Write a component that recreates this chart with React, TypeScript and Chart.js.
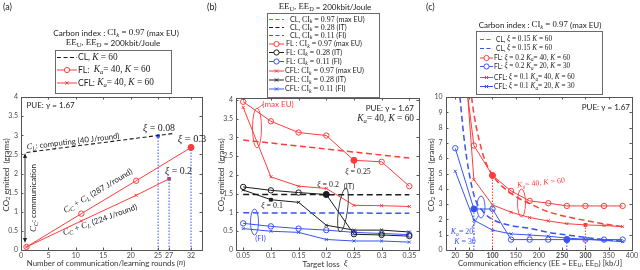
import React, { useEffect, useRef } from "react";
import { Chart, registerables } from "chart.js";

Chart.register(...registerables);

// ---------------- data: panel (a) ----------------
const aRoundTicks = [0, 5, 10, 15, 20, 25, 27, 31];
const aRoundTickLabels = ["0", "5", "10", "15", "20", "25", "27", "32"];
const aClRounds = [1, 28];
const aClCo2 = [2.55, 3.05];
const aFlRounds = [1, 11, 21, 31];
const aFlCo2 = [0.08, 0.95, 1.81, 2.68];
const aCflRounds = [1, 11, 21, 27];
const aCflCo2 = [0.08, 0.76, 1.43, 1.86];
const aTargetRounds = [25, 27, 31];
const aTargetCo2 = [2.98, 1.86, 2.68];
const co2Ticks4 = [0, 0.5, 1, 1.5, 2, 2.5, 3, 3.5, 4];

// ---------------- data: panel (b) ----------------
const bLoss = [0.05, 0.1, 0.15, 0.2, 0.25, 0.3, 0.35];
const bClLoss = [0.05, 0.35];
const bClEu = [2.93, 2.45];
const bClIt = [1.48, 1.47];
const bClFi = [0.99, 0.98];
const bFlEu = [3.95, 3.43, 3.13, 3.05, 2.39, 2.35, 1.7];
const bFlIt = [1.68, 1.59, 1.53, 1.48, 0.42, 0.4, 0.37];
const bFlFi = [0.71, 0.63, 0.57, 0.53, 0.47, 0.44, 0.41];
const bCflEu = [3.8, 1.95, 1.7, 1.64, 1.19, 1.18, 1.16];
const bCflIt = [1.6, 1.34, 1.27, 0.66, 0.53, 0.53, 0.48];
const bCflFi = [0.57, 0.5, 0.47, 0.28, 0.24, 0.24, 0.21];
const bTargetLoss = [0.25, 0.2, 0.1];
const bTargetCo2 = [2.39, 1.48, 1.34];

// ---------------- data: panel (c) ----------------
const cEE = [20, 60, 100, 140, 180, 220, 260, 300, 340, 380];
const cFlRed = [16.6, 6.83, 4.87, 3.86, 3.21, 3.06, 2.88, 2.88, 2.88, 2.88];
const cCflRed = [21, 4.6, 2.95, 2.47, 2.12, 1.9, 1.72, 1.64, 1.6, 1.53];
const cFlBlue = [6.65, 2.68, 2.68, 0.68, 0.68, 0.68, 0.68, 0.68, 0.68, 0.68];
const cCflBlue = [5.15, 1.95, 1.3, 1.05, 0.98, 0.9, 0.78, 0.7, 0.62, 0.55];
const cClRedEE = [55, 60, 80, 100, 140, 180, 220, 260, 300, 340, 380];
const cClRed = [10, 8.9, 6.2, 4.9, 3.7, 3.03, 2.5, 2.17, 1.93, 1.71, 1.52];
const cClBlueEE = [30, 40, 60, 80, 100, 140, 180, 220, 260, 300, 340, 380];
const cClBlue = [10, 7.0, 3.6, 2.5, 2.0, 1.6, 1.42, 1.15, 0.98, 0.82, 0.68, 0.57];
const cTargetEE = [100, 300, 60, 260];
const cTargetCo2 = [4.87, 1.64, 2.68, 0.68];
const cEETicks = [20, 50, 100, 150, 200, 250, 300, 350, 400];
const cEEBold = [50, 100, 250, 300];
const cCo2Ticks = [0, 1, 2, 3, 4, 5, 6, 7, 8, 9, 10];

// ---------------- styling ----------------
const RED = "#ff3c3c";
const BLUE = "#3a52f2";
const BLACK = "#1c1c1c";
const TICK = "#4a4a4a";
const SANS = '"Lato", "Liberation Sans", Arial, sans-serif';
const SERIF = '"Liberation Serif", "Times New Roman", serif';
const YW = 22;
const XH = 16;

type Seg = [string, string];

function segFont(code: string, size: number) {
  const sub = code[0] === "b";
  const base = sub ? code.slice(1) || "r" : code;
  let sz = sub ? size * 0.72 : size;
  if (base !== "s") sz *= 1.1;
  if (base === "s") return `${sz}px ${SANS}`;
  if (base === "i") return `italic ${sz}px ${SERIF}`;
  return `${sz}px ${SERIF}`;
}

function richWidth(ctx: CanvasRenderingContext2D, segs: Seg[], size: number) {
  let w = 0;
  for (const [t, c] of segs) {
    ctx.font = segFont(c, size);
    w += ctx.measureText(t).width;
  }
  return w;
}

function drawRich(
  ctx: CanvasRenderingContext2D,
  segs: Seg[],
  x: number,
  y: number,
  size: number,
  color: string,
  align: "left" | "center" | "right" = "left",
  angle = 0
) {
  ctx.save();
  ctx.translate(x, y);
  if (angle) ctx.rotate((angle * Math.PI) / 180);
  const w = richWidth(ctx, segs, size);
  let cx = align === "left" ? 0 : align === "center" ? -w / 2 : -w;
  ctx.fillStyle = color;
  ctx.textBaseline = "middle";
  ctx.textAlign = "left";
  for (const [t, c] of segs) {
    ctx.font = segFont(c, size);
    const dy = c[0] === "b" ? size * 0.3 : 0;
    ctx.fillText(t, cx, dy);
    cx += ctx.measureText(t).width;
  }
  ctx.restore();
}

function drawMarker(ctx: CanvasRenderingContext2D, kind: string, x: number, y: number, color: string) {
  ctx.save();
  ctx.strokeStyle = color;
  ctx.lineWidth = 1;
  ctx.setLineDash([]);
  if (kind === "circle") {
    ctx.beginPath();
    ctx.arc(x, y, 2.6, 0, Math.PI * 2);
    ctx.fillStyle = "#fff";
    ctx.fill();
    ctx.stroke();
  } else if (kind === "cross") {
    ctx.beginPath();
    ctx.moveTo(x - 1.6, y - 1.6);
    ctx.lineTo(x + 1.6, y + 1.6);
    ctx.moveTo(x + 1.6, y - 1.6);
    ctx.lineTo(x - 1.6, y + 1.6);
    ctx.stroke();
  }
  ctx.restore();
}

type LegItem = { color: string; dash: boolean; marker: string; text: Seg[]; y: number; tx?: number };

function drawLegend(
  ctx: CanvasRenderingContext2D,
  box: [number, number, number, number],
  lx: [number, number],
  tx: number,
  size: number,
  items: LegItem[]
) {
  ctx.save();
  ctx.fillStyle = "#fff";
  ctx.fillRect(box[0], box[1], box[2], box[3]);
  ctx.strokeStyle = "#6a6a6a";
  ctx.lineWidth = 1;
  ctx.strokeRect(box[0] + 0.5, box[1] + 0.5, box[2], box[3]);
  for (const it of items) {
    ctx.strokeStyle = it.color;
    ctx.lineWidth = it.dash ? 1.2 : 1;
    ctx.setLineDash(it.dash ? [4, 2.5] : []);
    ctx.beginPath();
    ctx.moveTo(lx[0], it.y);
    ctx.lineTo(lx[1], it.y);
    ctx.stroke();
    ctx.setLineDash([]);
    if (it.marker !== "none") drawMarker(ctx, it.marker, (lx[0] + lx[1]) / 2, it.y, it.color);
    drawRich(ctx, it.text, it.tx ?? tx, it.y, size, "#222", "left");
  }
  ctx.restore();
}

function drawFrame(chart: any) {
  const ctx: CanvasRenderingContext2D = chart.ctx;
  const a = chart.chartArea;
  ctx.save();
  ctx.strokeStyle = "#555";
  ctx.lineWidth = 1;
  ctx.strokeRect(Math.round(a.left) + 0.5, Math.round(a.top) + 0.5, Math.round(a.right - a.left), Math.round(a.bottom - a.top));
  const xs = chart.scales.x;
  const ys = chart.scales.y;
  ctx.beginPath();
  for (const t of xs.ticks) {
    const px = Math.round(xs.getPixelForValue(t.value)) + 0.5;
    ctx.moveTo(px, a.bottom);
    ctx.lineTo(px, a.bottom - 2.5);
    ctx.moveTo(px, a.top);
    ctx.lineTo(px, a.top + 2.5);
  }
  for (const t of ys.ticks) {
    const py = Math.round(ys.getPixelForValue(t.value)) + 0.5;
    ctx.moveTo(a.left, py);
    ctx.lineTo(a.left + 2.5, py);
    ctx.moveTo(a.right, py);
    ctx.lineTo(a.right - 2.5, py);
  }
  ctx.stroke();
  ctx.restore();
}

function ellipse(ctx: CanvasRenderingContext2D, cx: number, cy: number, rx: number, ry: number, color: string, rot = 0) {
  ctx.save();
  ctx.strokeStyle = color;
  ctx.lineWidth = 0.9;
  ctx.beginPath();
  ctx.ellipse(cx, cy, rx, ry, (rot * Math.PI) / 180, 0, Math.PI * 2);
  ctx.stroke();
  ctx.restore();
}

function seg(ctx: CanvasRenderingContext2D, x1: number, y1: number, x2: number, y2: number, color: string, w = 0.9) {
  ctx.save();
  ctx.strokeStyle = color;
  ctx.lineWidth = w;
  ctx.beginPath();
  ctx.moveTo(x1, y1);
  ctx.lineTo(x2, y2);
  ctx.stroke();
  ctx.restore();
}

// ---------------- dataset helpers ----------------
function lineDs(xs: number[], ys: number[], color: string, marker: string, dash = false, extra: any = {}) {
  return {
    data: xs.map((x, i) => ({ x, y: ys[i] })),
    showLine: true,
    borderColor: color,
    backgroundColor: color,
    borderWidth: dash ? 1.5 : 1,
    borderDash: dash ? [6, 3.5] : [],
    pointStyle: marker === "cross" ? "crossRot" : "circle",
    pointRadius: marker === "circle" ? 2.7 : marker === "cross" ? 2.1 : 0,
    pointBorderWidth: 1,
    pointBackgroundColor: "rgba(255,255,255,0)",
    pointBorderColor: color,
    tension: 0,
    ...extra,
  };
}

function dropDs(xs: number[], ys: number[], colors: string[]) {
  return xs.map((x, i) => ({
    data: [
      { x, y: 0 },
      { x, y: ys[i] },
    ],
    showLine: true,
    borderColor: colors[i],
    borderWidth: 1,
    borderDash: [1.5, 1.5],
    pointRadius: 0,
  }));
}

function markDs(xs: number[], ys: number[], colors: string[], styles: string[], radii: number[]) {
  return {
    data: xs.map((x, i) => ({ x, y: ys[i] })),
    showLine: false,
    pointStyle: styles,
    pointRadius: radii,
    pointBackgroundColor: colors,
    pointBorderColor: colors,
    pointBorderWidth: 1,
  };
}

type Area = { l: number; r: number; t: number; b: number };
type AxisSpec = { min: number; max: number; ticks: number[]; label: (v: number) => string; bold?: number[]; pad: number };

function makeConfig(area: Area, xa: AxisSpec, ya: AxisSpec, datasets: any[], deco: (ctx: CanvasRenderingContext2D, chart: any) => void) {
  const tickFont = (spec: AxisSpec) => (c: any) => ({
    family: SANS,
    size: 7,
    weight: spec.bold && c.tick && spec.bold.includes(c.tick.value) ? "bold" : "normal",
  });
  return {
    type: "scatter",
    data: { datasets },
    options: {
      responsive: false,
      animation: false,
      devicePixelRatio: 1,
      events: [],
      layout: { padding: { left: area.l - YW, right: 640 - area.r, top: area.t, bottom: 270 - area.b - XH } },
      plugins: { legend: { display: false }, tooltip: { enabled: false }, title: { display: false } },
      scales: {
        x: {
          type: "linear",
          position: "bottom",
          min: xa.min,
          max: xa.max,
          grid: { display: false, drawTicks: false },
          border: { display: false },
          ticks: { autoSkip: false, maxRotation: 0, padding: xa.pad, color: TICK, font: tickFont(xa), callback: (v: number) => xa.label(v) },
          afterBuildTicks: (ax: any) => {
            ax.ticks = xa.ticks.map((v) => ({ value: v }));
          },
          afterFit: (ax: any) => {
            ax.height = XH;
          },
        },
        y: {
          type: "linear",
          position: "left",
          min: ya.min,
          max: ya.max,
          grid: { display: false, drawTicks: false },
          border: { display: false },
          ticks: { autoSkip: false, padding: ya.pad, color: TICK, font: tickFont(ya), callback: (v: number) => ya.label(v) },
          afterBuildTicks: (ax: any) => {
            ax.ticks = ya.ticks.map((v) => ({ value: v }));
          },
          afterFit: (ax: any) => {
            ax.width = YW;
          },
        },
      },
    },
    plugins: [
      {
        id: "deco",
        afterDraw(chart: any) {
          drawFrame(chart);
          deco(chart.ctx, chart);
        },
      },
    ],
  } as any;
}

const fmt = (v: number) => String(Math.round(v * 100) / 100);
const co2Title: Seg[] = [["CO", "s"], ["2", "bs"], [" emitted  (grams)", "s"]];

function yTitle(ctx: CanvasRenderingContext2D, x: number, y: number) {
  drawRich(ctx, co2Title, x, y, 8, "#333", "center", -90);
}

// ---------------- panel configs ----------------
function configA() {
  const datasets = [
    lineDs(aClRounds, aClCo2, BLACK, "none", true, { borderWidth: 1.1, borderDash: [4, 2.5] }),
    lineDs(aFlRounds, aFlCo2, RED, "circle"),
    lineDs(aCflRounds, aCflCo2, RED, "cross"),
    ...dropDs(aTargetRounds, aTargetCo2, [BLUE, BLUE, BLUE]),
    markDs(aTargetRounds, aTargetCo2, [BLUE, BLUE, RED], ["rect", "rect", "circle"], [1.8, 1.8, 3]),
  ];
  return makeConfig(
    { l: 21, r: 202, t: 97, b: 250 },
    { min: 0, max: 33, ticks: aRoundTicks, label: (v) => aRoundTickLabels[aRoundTicks.indexOf(v)] ?? "", pad: 2 },
    { min: 0, max: 4, ticks: co2Ticks4, label: fmt, pad: 3 },
    datasets,
    (ctx) => {
      drawRich(ctx, [["(a)", "s"]], 3, 7, 9, "#222");
      drawRich(ctx, [["Carbon index : ", "s"], ["CI", "r"], ["k", "bi"], [" = 0.97 ", "r"], ["(max EU)", "s"]], 116, 33, 8.2, "#222", "center");
      drawRich(ctx, [["EE", "r"], ["U", "b"], [", EE", "r"], ["D", "b"], [" = 200kbit/Joule", "s"]], 113, 43, 8.2, "#222", "center");
      drawLegend(ctx, [55, 50, 116, 43], [57, 77], 78, 8.5, [
        { color: BLACK, dash: true, marker: "none", y: 57.5, text: [["CL, ", "s"], ["K", "i"], [" = 60", "r"]] },
        { color: RED, dash: false, marker: "circle", y: 70, text: [["FL:  ", "s"], ["K", "i"], ["a", "bi"], ["= 40, ", "r"], ["K", "i"], [" = 60", "r"]] },
        { color: RED, dash: false, marker: "cross", y: 83, text: [["CFL: ", "s"], ["K", "i"], ["a", "bi"], ["= 40, ", "r"], ["K", "i"], [" = 60", "r"]] },
      ]);
      drawRich(ctx, [["PUE: γ = 1.67", "s"]], 26.5, 105.5, 8, "#222");
      drawRich(ctx, [["ξ", "i"], [" = 0.08", "r"]], 159, 128.5, 9, "#222", "center");
      drawRich(ctx, [["ξ", "i"], [" = 0.3", "r"]], 192, 139, 9.5, "#222", "center");
      drawRich(ctx, [["ξ", "i"], [" = 0.2", "r"]], 178.5, 171, 9, "#222", "center");
      drawRich(ctx, [["C", "i"], ["L", "bi"], [": computing (40 J/round)", "s"]], 73, 141.5, 7.8, "#222", "center", -7);
      drawRich(ctx, [["C", "i"], ["C", "bi"], [": communication", "s"]], 33.5, 198, 8, "#222", "center", -90);
      drawRich(ctx, [["C", "i"], ["C", "bi"], [" + ", "r"], ["C", "i"], ["L", "bi"], [" (287 J/round)", "s"]], 98, 191, 8, "#222", "center", -31);
      drawRich(ctx, [["C", "i"], ["C", "bi"], [" + ", "r"], ["C", "i"], ["L", "bi"], [" (224 J/round)", "s"]], 100, 220, 8, "#222", "center", -20);
      ctx.save();
      ctx.strokeStyle = "#222";
      ctx.fillStyle = "#222";
      ctx.lineWidth = 0.9;
      ctx.beginPath();
      ctx.moveTo(25, 155);
      ctx.lineTo(25, 241);
      ctx.stroke();
      ctx.beginPath();
      ctx.moveTo(25, 153);
      ctx.lineTo(23, 158);
      ctx.lineTo(27, 158);
      ctx.closePath();
      ctx.fill();
      ctx.beginPath();
      ctx.moveTo(25, 243);
      ctx.lineTo(23, 238);
      ctx.lineTo(27, 238);
      ctx.closePath();
      ctx.fill();
      ctx.restore();
      drawRich(ctx, [["Number of communication/learning rounds (", "s"], ["n", "i"], [")", "s"]], 106, 263, 7.8, "#333", "center");
      yTitle(ctx, 6, 175);
    }
  );
}

function configB() {
  const datasets = [
    lineDs(bClLoss, bClEu, RED, "none", true),
    lineDs(bClLoss, bClIt, BLACK, "none", true),
    lineDs(bClLoss, bClFi, BLUE, "none", true),
    lineDs(bLoss, bFlEu, RED, "circle"),
    lineDs(bLoss, bFlIt, BLACK, "circle"),
    lineDs(bLoss, bFlFi, BLUE, "circle"),
    lineDs(bLoss, bCflEu, RED, "cross"),
    lineDs(bLoss, bCflIt, BLACK, "cross"),
    lineDs(bLoss, bCflFi, BLUE, "cross"),
    markDs(bTargetLoss, bTargetCo2, [RED, BLACK, BLACK], ["circle", "circle", "rect"], [3, 3, 2]),
  ];
  return makeConfig(
    { l: 236, r: 419, t: 98, b: 250 },
    { min: 0.037, max: 0.3675, ticks: bLoss, label: fmt, pad: 2 },
    { min: 0, max: 4.05, ticks: co2Ticks4, label: fmt, pad: 3 },
    datasets,
    (ctx) => {
      drawRich(ctx, [["(b)", "s"]], 207, 7, 9, "#222");
      drawRich(ctx, [["EE", "r"], ["U", "b"], [", EE", "r"], ["D", "b"], [" = 200kbit/Joule", "s"]], 325, 7, 8, "#222", "center");
      const ci = (lbl: string, v: string, tag: string): Seg[] => [[lbl, "s"], ["CI", "r"], ["k", "bi"], [` = ${v} `, "r"], [tag, "s"]];
      drawLegend(ctx, [267, 13, 112, 84], [269, 284], 287, 7.2, [
        { color: RED, dash: true, marker: "none", y: 19.5, tx: 290, text: ci("CL, ", "0.97", "(max EU)") },
        { color: BLACK, dash: true, marker: "none", y: 27.5, tx: 290, text: ci("CL, ", "0.28", "(IT)") },
        { color: BLUE, dash: true, marker: "none", y: 35.5, tx: 290, text: ci("CL, ", "0.11", "(FI)") },
        { color: RED, dash: false, marker: "circle", y: 44, tx: 286, text: ci("FL : ", "0.97", "(max EU)") },
        { color: BLACK, dash: false, marker: "circle", y: 52.5, tx: 286, text: ci("FL: ", "0.28", "(IT)") },
        { color: BLUE, dash: false, marker: "circle", y: 61.5, tx: 286, text: ci("FL: ", "0.11", "(FI)") },
        { color: RED, dash: false, marker: "cross", y: 71, tx: 285, text: ci("CFL: ", "0.97", "(max EU)") },
        { color: BLACK, dash: false, marker: "cross", y: 80, tx: 285, text: ci("CFL: ", "0.28", "(IT)") },
        { color: BLUE, dash: false, marker: "cross", y: 89, tx: 285, text: ci("CFL: ", "0.11", "(FI)") },
      ]);
      drawRich(ctx, [["PUE: γ = 1.67", "s"]], 414, 108, 8, "#222", "right");
      drawRich(ctx, [["K", "i"], ["a", "bi"], ["= 40, ", "r"], ["K", "i"], [" = 60", "r"]], 414, 119, 8.5, "#222", "right");
      drawRich(ctx, [["(max EU)", "s"]], 278, 104, 8, RED, "center");
      ellipse(ctx, 257, 128, 4.5, 20, RED);
      seg(ctx, 258, 108, 264, 104, RED, 0.8);
      drawRich(ctx, [["ξ", "i"], [" = 0.25", "r"]], 358, 172, 7.2, "#222", "center");
      seg(ctx, 354.5, 162, 354.5, 168, RED, 1);
      drawRich(ctx, [["ξ", "i"], [" = 0.2", "r"]], 328, 184.5, 7.2, "#222", "center");
      drawRich(ctx, [["(IT)", "s"]], 349, 187, 7.5, "#222", "center");
      ellipse(ctx, 343, 210, 4.5, 22, "#333", 8);
      drawRich(ctx, [["ξ", "i"], [" = 0.1", "r"]], 272, 205.5, 7.2, "#222", "center");
      drawRich(ctx, [["(FI)", "s"]], 260.5, 238.5, 7.5, BLUE, "center");
      ellipse(ctx, 254.5, 222, 4, 13, BLUE);
      drawRich(ctx, [["Target loss  ", "s"], ["ξ", "i"]], 325, 264, 8, "#333", "center");
      yTitle(ctx, 221, 175);
    }
  );
}

function configC() {
  const datasets = [
    lineDs(cClRedEE, cClRed, RED, "none", true, { cubicInterpolationMode: "monotone" }),
    lineDs(cClBlueEE, cClBlue, BLUE, "none", true, { cubicInterpolationMode: "monotone" }),
    lineDs(cEE, cFlRed, RED, "circle"),
    lineDs(cEE, cFlBlue, BLUE, "circle"),
    lineDs(cEE, cCflRed, RED, "cross"),
    lineDs(cEE, cCflBlue, BLUE, "cross"),
    ...dropDs(cTargetEE, cTargetCo2, [RED, RED, BLUE, BLUE]),
    markDs(cTargetEE, cTargetCo2, [RED, RED, BLUE, BLUE], ["circle", "rect", "circle", "circle"], [3, 2, 3, 3]),
  ];
  return makeConfig(
    { l: 446, r: 633, t: 97, b: 250 },
    { min: 0, max: 400, ticks: cEETicks, label: fmt, bold: cEEBold, pad: 2 },
    { min: 0, max: 10, ticks: cCo2Ticks, label: fmt, pad: 3.5 },
    datasets,
    (ctx) => {
      drawRich(ctx, [["(c)", "s"]], 426, 7, 9, "#222");
      drawRich(ctx, [["Carbon index : ", "s"], ["CI", "r"], ["k", "bi"], [" = 0.97 ", "r"], ["(max EU)", "s"]], 540, 25, 8, "#222", "center");
      const xi = (lbl: string, v: string, rest: Seg[]): Seg[] => [[lbl, "s"], ["ξ", "i"], [` = ${v} `, "r"], ...rest];
      const k60: Seg[] = [["K", "i"], [" = 60", "r"]];
      const ka = (a: string, k: string): Seg[] => [["K", "i"], ["a", "bi"], [`= ${a}, `, "r"], ["K", "i"], [` = ${k}`, "r"]];
      drawLegend(ctx, [476, 31, 126, 63], [480, 493], 496, 6.6, [
        { color: RED, dash: true, marker: "none", y: 39.5, text: xi("CL, ", "0.15", k60) },
        { color: BLUE, dash: true, marker: "none", y: 48.5, text: xi("CL, ", "0.15", k60) },
        { color: RED, dash: false, marker: "circle", y: 58, tx: 494, text: xi("FL: ", "0.2", ka("40", "60")) },
        { color: BLUE, dash: false, marker: "circle", y: 66.5, tx: 494, text: xi("FL: ", "0.2", ka("20", "30")) },
        { color: RED, dash: false, marker: "cross", y: 77.5, tx: 494, text: xi("CFL: ", "0.1", ka("40", "60")) },
        { color: BLUE, dash: false, marker: "cross", y: 86.5, tx: 494, text: xi("CFL: ", "0.1", ka("20", "30")) },
      ]);
      drawRich(ctx, [["PUE: γ = 1.67", "s"]], 630, 107, 8, "#222", "right");
      drawRich(ctx, ka("40", "60"), 541, 183, 7.2, RED, "center", -6);
      ellipse(ctx, 521.5, 203, 4, 14, RED);
      drawRich(ctx, [["K", "i"], ["a", "bi"], ["= 20,", "r"]], 463, 232, 7.2, BLUE, "center");
      drawRich(ctx, [["K", "i"], [" = 30", "r"]], 465, 242, 7.2, BLUE, "center");
      ellipse(ctx, 481, 207, 4, 11, BLUE);
      seg(ctx, 478, 216, 472, 228, BLUE, 0.8);
      drawRich(ctx, [["Communication efficiency (EE = EE", "s"], ["U", "bs"], [", EE", "s"], ["D", "bs"], [") [kb/J]", "s"]], 540, 263, 7.8, "#333", "center");
      yTitle(ctx, 431, 175);
    }
  );
}

export default function App() {
  const refA = useRef<HTMLCanvasElement>(null);
  const refB = useRef<HTMLCanvasElement>(null);
  const refC = useRef<HTMLCanvasElement>(null);
  useEffect(() => {
    const charts = [
      new Chart(refA.current as HTMLCanvasElement, configA()),
      new Chart(refB.current as HTMLCanvasElement, configB()),
      new Chart(refC.current as HTMLCanvasElement, configC()),
    ];
    return () => charts.forEach((c) => c.destroy());
  }, []);
  const cs: React.CSSProperties = { position: "absolute", left: 0, top: 0, width: 640, height: 270 };
  return (
    <div style={{ position: "absolute", left: 0, top: 0, width: 640, height: 270, background: "#fff", overflow: "hidden" }}>
      <canvas ref={refA} width={640} height={270} style={cs} />
      <canvas ref={refB} width={640} height={270} style={cs} />
      <canvas ref={refC} width={640} height={270} style={cs} />
    </div>
  );
}
